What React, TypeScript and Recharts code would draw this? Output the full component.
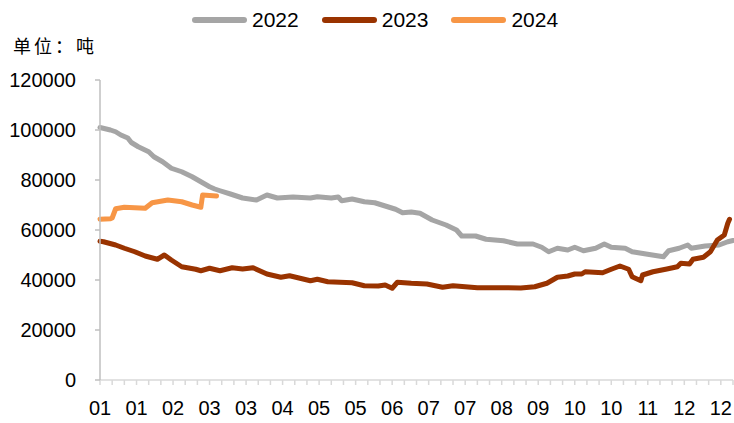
import { LineChart, Line, XAxis, YAxis } from "recharts";

// day of year (0 = 01-01) and stock in tonnes
const days2022 = [0, 3, 6, 9, 12, 16, 18, 22, 28, 31, 36, 41, 47, 53, 58, 63, 66, 69, 75, 82, 90, 96, 102, 111, 121, 125, 133, 137, 139, 145, 152, 158, 164, 170, 174, 179, 184, 191, 199, 205, 208, 216, 222, 232, 240, 249, 254, 258, 263, 269, 273, 278, 285, 290, 294, 302, 306, 314, 324, 327, 333, 338, 340, 348, 356, 361, 364];
const values2022 = [101000, 100500, 100000, 99300, 98000, 96800, 95000, 93300, 91300, 89300, 87300, 84700, 83300, 81300, 79300, 77300, 76400, 75700, 74400, 72800, 72000, 74000, 72800, 73200, 72800, 73300, 72800, 73200, 71700, 72400, 71300, 70900, 69600, 68300, 66900, 67200, 66700, 64000, 62000, 60000, 57600, 57600, 56300, 55700, 54400, 54400, 53100, 51300, 52700, 52000, 53100, 51700, 52700, 54400, 53100, 52700, 51300, 50400, 49300, 51700, 52700, 54000, 52700, 53600, 54000, 55300, 55800];

const days2023 = [0, 2, 9, 14, 20, 26, 33, 37, 41, 47, 55, 58, 63, 69, 76, 82, 88, 96, 104, 109, 115, 121, 125, 131, 145, 152, 160, 164, 168, 171, 179, 188, 197, 203, 217, 232, 242, 250, 257, 263, 269, 273, 277, 279, 289, 294, 299, 304, 306, 311, 312, 318, 326, 332, 334, 339, 341, 347, 351, 355, 359, 361, 362];
const values2023 = [55500, 55300, 54000, 52700, 51300, 49600, 48300, 50000, 48000, 45300, 44300, 43700, 44700, 43700, 44900, 44400, 44900, 42400, 41100, 41700, 40700, 39700, 40300, 39300, 38900, 37700, 37600, 38000, 36700, 39100, 38700, 38400, 37100, 37700, 36900, 36900, 36800, 37300, 38700, 41100, 41600, 42400, 42400, 43300, 42900, 44300, 45600, 44300, 41300, 39700, 42000, 43300, 44400, 45300, 46700, 46400, 48300, 49100, 51300, 56000, 58000, 62700, 64300];

const days2024 = [0, 6, 7, 9, 14, 26, 30, 39, 47, 53, 58, 59, 67];
const values2024 = [64300, 64500, 64800, 68500, 69100, 68700, 70900, 72000, 71300, 70000, 69100, 74000, 73600];

const yTicks = [0, 20000, 40000, 60000, 80000, 100000, 120000];
const xLabels = ["01", "01", "02", "03", "03", "04", "05", "05", "06", "07", "07", "08", "09", "10", "10", "11", "12", "12"];

const series = [
  { name: "2022", days: days2022, values: values2022, color: "#A5A5A5" },
  { name: "2023", days: days2023, values: values2023, color: "#993300" },
  { name: "2024", days: days2024, values: values2024, color: "#F79646" },
];

const xTicks = Array.from({ length: 53 }, (_, i) => i * 7);
const font = "'Liberation Sans', sans-serif";

export default function App() {
  return (
    <div style={{ position: "absolute", left: 0, top: 0, width: 734, height: 423, background: "#fff" }}>
      <div style={{ position: "absolute", left: 13, top: 33, fontFamily: "'Noto Sans CJK SC', sans-serif", fontSize: 18, letterSpacing: 3, lineHeight: "24px", color: "#000" }}>
        单位：吨
      </div>
      <div style={{ position: "absolute", left: 192, top: 8, height: 24, display: "flex", alignItems: "center", fontFamily: font, fontSize: 21, color: "#000" }}>
        {series.map((s) => (
          <div key={s.name} style={{ display: "flex", alignItems: "center", marginRight: 23 }}>
            <div style={{ width: 55, height: 6, borderRadius: 3, background: s.color, marginRight: 5 }} />
            <span>{s.name}</span>
          </div>
        ))}
      </div>
      <LineChart width={734} height={423} margin={{ top: 80, right: 1, bottom: 0, left: 0 }}>
        <XAxis
          type="number"
          dataKey="day"
          domain={[0, 364]}
          ticks={xTicks}
          interval={0}
          height={43}
          stroke="#D9D9D9"
          strokeWidth={1.5}
          tickSize={5}
          tickMargin={16}
          tick={{ fill: "#000", fontSize: 20, fontFamily: font }}
          tickFormatter={(d: number) => (d % 21 === 0 ? xLabels[d / 21] ?? "" : "")}
        />
        <YAxis
          type="number"
          domain={[0, 120000]}
          ticks={yTicks}
          width={100}
          stroke="#BFBFBF"
          strokeWidth={1.5}
          tickSize={5}
          tickMargin={19}
          tick={{ fill: "#000", fontSize: 20, fontFamily: font }}
        />
        {series.map((s) => (
          <Line
            key={s.name}
            name={s.name}
            data={s.days.map((d, i) => ({ day: d, v: s.values[i] }))}
            dataKey="v"
            type="linear"
            stroke={s.color}
            strokeWidth={5}
            strokeLinejoin="round"
            strokeLinecap="round"
            dot={false}
            isAnimationActive={false}
          />
        ))}
      </LineChart>
    </div>
  );
}
